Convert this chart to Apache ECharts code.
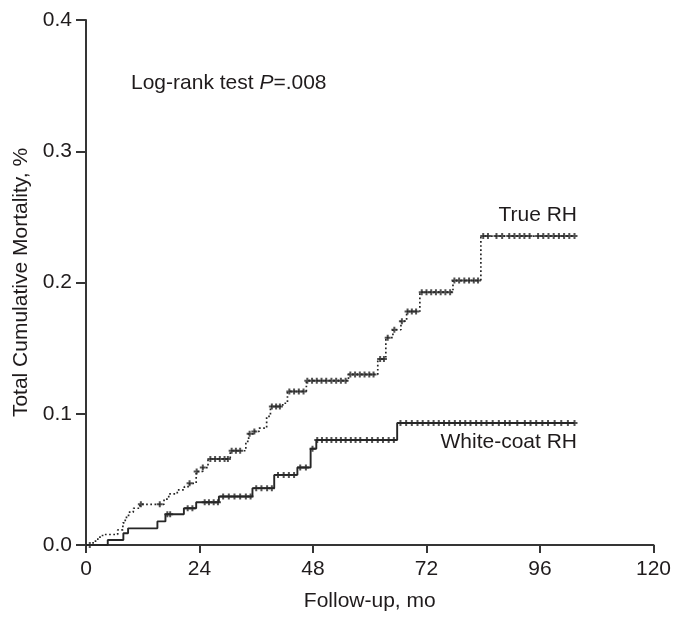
<!DOCTYPE html>
<html><head><meta charset="utf-8">
<script src="https://cdn.jsdelivr.net/npm/echarts@6/dist/echarts.min.js"></script>
<style>html,body{margin:0;padding:0;background:#fff}#c{width:674px;height:617px}</style>
</head><body><div id="c"></div>
<script>
// Follow-up months (x) and cumulative mortality (y) at each step of the Kaplan-Meier curves
const trueRH_t = [0, 1.5, 2.5, 3.5, 6.7, 7.8, 8.3, 9.0, 10.0, 11.4, 16.5, 17.5, 19.3, 20.8, 21.9, 23.3, 24.7, 25.8, 30.5, 33.8, 34.4, 35.4, 36.6, 38.2, 39.0, 41.6, 42.6, 46.6, 55.5, 61.7, 63.4, 64.9, 66.6, 67.8, 70.6, 77.6, 83.5, 103.3];
const trueRH_v = [0, 0.003, 0.006, 0.008, 0.0115, 0.0168, 0.021, 0.025, 0.028, 0.031, 0.035, 0.039, 0.042, 0.0445, 0.047, 0.056, 0.059, 0.0656, 0.0718, 0.079, 0.0847, 0.0865, 0.089, 0.098, 0.1056, 0.108, 0.117, 0.1252, 0.130, 0.1417, 0.158, 0.164, 0.1705, 0.178, 0.1926, 0.2015, 0.2354, 0.2354];
const trueRH_censor = [0.8, 11.6, 15.6, 21.9, 23.4, 24.7, 26.3, 27.3, 28.3, 29.3, 30.0, 30.8, 31.7, 32.6, 34.6, 35.6, 39.3, 40.2, 41.0, 43.0, 44.0, 45.0, 46.0, 46.8, 47.8, 48.8, 49.8, 50.8, 51.9, 52.9, 53.9, 54.9, 55.9, 56.9, 57.9, 58.9, 59.9, 60.8, 62.2, 63.0, 63.8, 65.2, 66.8, 68.0, 68.9, 69.8, 71.0, 72.0, 73.0, 74.0, 75.0, 76.0, 77.0, 77.9, 78.9, 80.0, 81.0, 82.0, 82.9, 84.0, 85.0, 86.8, 88.0, 89.5, 90.6, 91.7, 92.7, 93.8, 95.6, 96.7, 97.8, 98.9, 100.0, 101.1, 102.2, 103.3];

const whiteRH_t = [0, 4.6, 7.9, 8.9, 15.1, 16.8, 20.7, 23.3, 28.1, 35.2, 39.8, 44.7, 47.5, 48.7, 65.8, 103.3];
const whiteRH_v = [0, 0.0038, 0.009, 0.0127, 0.018, 0.0234, 0.028, 0.0326, 0.0369, 0.0433, 0.0534, 0.059, 0.0733, 0.080, 0.0929, 0.0929];
const whiteRH_censor = [17.2, 17.8, 21.5, 22.5, 25.1, 26.0, 27.0, 27.9, 29.0, 30.2, 31.4, 32.6, 33.8, 34.8, 36.0, 37.1, 38.3, 39.3, 40.6, 41.8, 42.9, 44.0, 45.3, 46.5, 47.9, 48.9, 49.9, 50.9, 51.9, 52.9, 53.9, 54.9, 56.0, 57.0, 58.0, 59.4, 60.5, 61.7, 62.8, 64.0, 65.1, 66.5, 67.7, 68.9, 70.1, 71.2, 72.4, 73.5, 74.6, 75.7, 76.8, 78.0, 79.1, 80.2, 81.3, 82.5, 83.6, 84.7, 86.0, 87.3, 88.6, 89.6, 91.2, 92.8, 94.0, 95.2, 96.5, 97.7, 99.1, 100.5, 101.9, 103.3];

const xTicks = [0, 24, 48, 72, 96, 120];
const yTicks = [0.0, 0.1, 0.2, 0.3, 0.4];
const seriesNames = ['True RH', 'White-coat RH'];
const annotation = ['Log-rank test ', 'P', '=.008'];
const xTitle = 'Follow-up, mo';
const yTitle = 'Total Cumulative Mortality, %';

// value of a step curve at time t (used to place censoring ticks on the curve)
function stepAt(T, V, t) { let v = V[0]; for (let i = 0; i < T.length; i++) { if (T[i] <= t) v = V[i]; } return v; }
const pairs = (T, V) => T.map((t, i) => [t, V[i]]);
const censorPts = (C, T, V) => C.map(t => [t, stepAt(T, V, t)]);

const FONT = "'Liberation Sans', Arial, sans-serif";
const TXT = '#1f1b1c';
const INK = '#262626';
const plus = 'path://M2,0h2v2h2v2h-2v2h-2v-2h-2v-2h2z';

const chart = echarts.init(document.getElementById('c'), null, { renderer: 'canvas' });
chart.setOption({
  animation: false,
  backgroundColor: '#fff',
  grid: { left: 86, right: 18, top: 20, bottom: 72, containLabel: false },
  xAxis: {
    type: 'value', min: xTicks[0], max: xTicks[xTicks.length - 1], interval: xTicks[1] - xTicks[0],
    name: xTitle, nameLocation: 'middle', nameGap: 46,
    nameTextStyle: { fontFamily: FONT, fontSize: 21, color: TXT },
    axisLine: { show: true, lineStyle: { color: '#353535', width: 2 } },
    axisTick: { show: true, length: 8, lineStyle: { color: '#353535', width: 2 } },
    axisLabel: { fontFamily: FONT, fontSize: 21, color: TXT, margin: 14 },
    splitLine: { show: false }
  },
  yAxis: {
    type: 'value', min: yTicks[0], max: yTicks[yTicks.length - 1], interval: yTicks[1] - yTicks[0],
    name: yTitle, nameLocation: 'middle', nameGap: 50, nameRotate: 90,
    nameTextStyle: { fontFamily: FONT, fontSize: 21, color: TXT },
    axisLine: { show: true, lineStyle: { color: '#353535', width: 2 } },
    axisTick: { show: true, length: 10, lineStyle: { color: '#353535', width: 2 } },
    axisLabel: { fontFamily: FONT, fontSize: 21, color: TXT, margin: 14, formatter: v => v.toFixed(1) },
    splitLine: { show: false }
  },
  graphic: [
    { type: 'text', left: 131, top: 73, style: {
        text: '{n|' + annotation[0] + '}{i|' + annotation[1] + '}{n|' + annotation[2] + '}',
        rich: { n: { fontFamily: FONT, fontSize: 21, fill: TXT }, i: { fontFamily: FONT, fontSize: 21, fontStyle: 'italic', fill: TXT } } } },
    { type: 'text', right: 97, top: 205, style: { text: seriesNames[0], fontFamily: FONT, fontSize: 21, fill: TXT } },
    { type: 'text', right: 97, top: 432, style: { text: seriesNames[1], fontFamily: FONT, fontSize: 21, fill: TXT } }
  ],
  series: [
    { name: seriesNames[0], type: 'line', step: 'end', showSymbol: false, silent: true,
      data: pairs(trueRH_t, trueRH_v),
      lineStyle: { color: INK, width: 1.7, type: [1.7, 2.5] } },
    { name: seriesNames[1], type: 'line', step: 'end', showSymbol: false, silent: true,
      data: pairs(whiteRH_t, whiteRH_v),
      lineStyle: { color: INK, width: 1.9, type: 'solid' } },
    { name: seriesNames[0] + ' censored', type: 'scatter', symbol: plus, symbolSize: 6, silent: true,
      data: censorPts(trueRH_censor, trueRH_t, trueRH_v), itemStyle: { color: INK } },
    { name: seriesNames[1] + ' censored', type: 'scatter', symbol: plus, symbolSize: 6, silent: true,
      data: censorPts(whiteRH_censor, whiteRH_t, whiteRH_v), itemStyle: { color: INK } }
  ]
});
</script>
</body></html>
